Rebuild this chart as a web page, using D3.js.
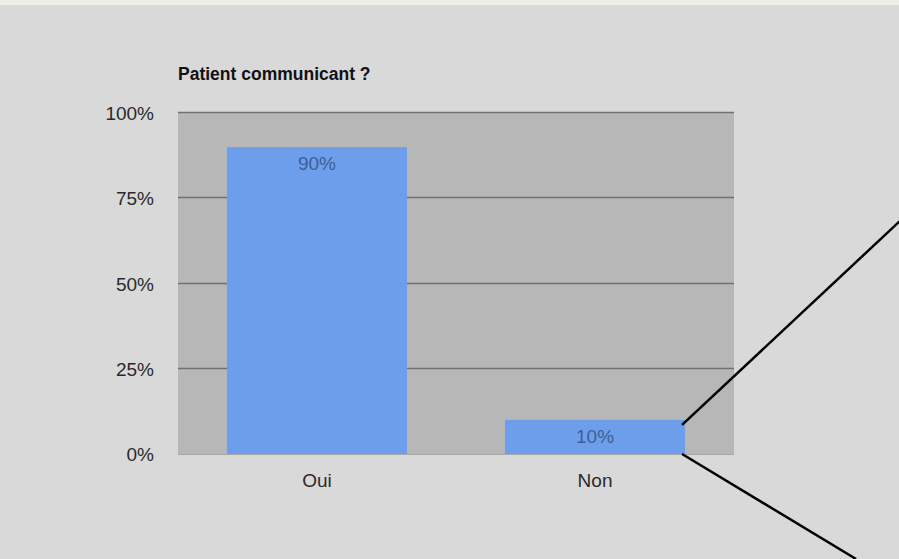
<!DOCTYPE html>
<html><head><meta charset="utf-8">
<script src="https://cdn.jsdelivr.net/npm/d3@7"></script>
<style>html,body{margin:0;padding:0;background:#d9d9d9;}svg{display:block;}</style>
</head><body>
<svg id="c" width="899" height="559"></svg>
<script>
const categories = ["Oui", "Non"];
const values = [90, 10];
const barLabels = ["90%", "10%"];
const tickValues = [0, 25, 50, 75, 100];
const tickLabels = ["0%", "25%", "50%", "75%", "100%"];
const title = "Patient communicant ?";

const svg = d3.select("#c");
const W = 899, H = 559;
const FONT = "Liberation Sans, Arial, sans-serif";
svg.append("rect").attr("width", W).attr("height", H).attr("fill", "#d9d9d9");
svg.append("rect").attr("width", W).attr("height", 5).attr("fill", "#eeedea");

const m = {left: 178, right: 734, top: 113, bottom: 454};
const x = d3.scaleBand().domain(categories).range([m.left, m.right]).paddingInner(0.3525).paddingOuter(0.176);
const y = d3.scaleLinear().domain([0, 100]).range([m.bottom, m.top]);

svg.append("rect").attr("x", m.left).attr("y", m.top).attr("width", m.right - m.left).attr("height", m.bottom - m.top).attr("fill", "#b7b7b7");

// gridlines
svg.append("g").selectAll("line").data(tickValues.filter(d => d > 0)).join("line")
  .attr("x1", m.left).attr("x2", m.right)
  .attr("y1", d => Math.round(y(d)) - 0.5).attr("y2", d => Math.round(y(d)) - 0.5)
  .attr("stroke", "#707070").attr("stroke-width", 1.3);

// y axis labels
const yAxis = d3.axisLeft(y).tickValues(tickValues).tickFormat((d, i) => tickLabels[i]).tickSize(0).tickPadding(0);
const ya = svg.append("g").attr("transform", `translate(${m.left - 24},0)`).call(yAxis);
ya.select(".domain").remove();
ya.selectAll("text").attr("font-family", FONT).attr("font-size", 19).attr("fill", "#2a2a2a").attr("dy", "0.35em");

// bars
svg.append("g").selectAll("rect").data(values).join("rect")
  .attr("x", (d, i) => x(categories[i]))
  .attr("y", d => y(d))
  .attr("width", x.bandwidth())
  .attr("height", d => y(0) - y(d))
  .attr("fill", "#6d9eeb");

// baseline
svg.append("line").attr("x1", m.left).attr("x2", m.right).attr("y1", m.bottom + 0.5).attr("y2", m.bottom + 0.5)
  .attr("stroke", "#a8a8a8").attr("stroke-width", 1);

// bar labels
svg.append("g").selectAll("text").data(values).join("text")
  .attr("x", (d, i) => x(categories[i]) + x.bandwidth() / 2)
  .attr("y", d => Math.min(y(d) + 23, (y(d) + y(0)) / 2 + 7))
  .attr("text-anchor", "middle")
  .attr("font-family", FONT).attr("font-size", 19)
  .attr("fill", "#3d5f94")
  .text((d, i) => barLabels[i]);

// x axis labels
const xAxis = d3.axisBottom(x).tickSize(0).tickPadding(0);
const xa = svg.append("g").attr("transform", `translate(0,${m.bottom + 33})`).call(xAxis);
xa.select(".domain").remove();
xa.selectAll("text").attr("font-family", FONT).attr("font-size", 19).attr("fill", "#2a2a2a").attr("dy", "0");

// title
svg.append("text").attr("x", m.left).attr("y", 80).attr("font-family", FONT)
  .attr("font-size", 17.5).attr("font-weight", "bold").attr("fill", "#111").text(title);

// callout lines from the Non bar corners
const nx = x("Non") + x.bandwidth() - 3;
const ny = y(values[1]) + 5;
const line = d3.line();
svg.append("path").attr("d", line([[nx, ny], [nx + 218, ny - 204]])).attr("stroke", "#000").attr("stroke-width", 2.5).attr("fill", "none");
svg.append("path").attr("d", line([[nx, y(0)], [nx + 174, y(0) + 105]])).attr("stroke", "#000").attr("stroke-width", 2.5).attr("fill", "none");
</script>
</body></html>
